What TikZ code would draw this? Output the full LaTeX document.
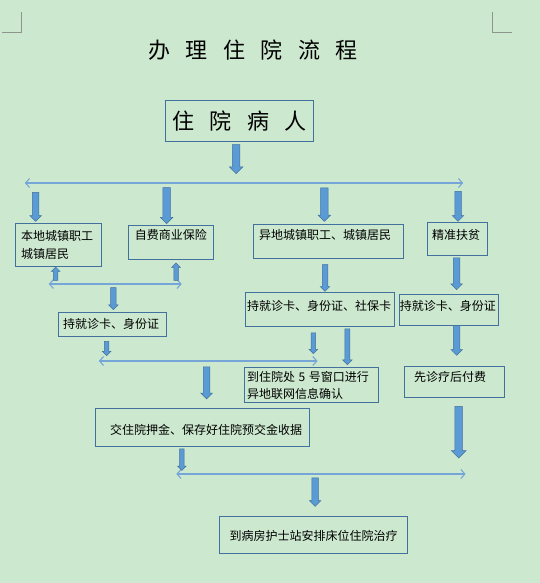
\documentclass[tikz,border=0pt]{standalone}
\usepackage{fontspec}
\setmainfont{Noto Sans CJK SC}
\usetikzlibrary{shapes.arrows,arrows.meta}
\definecolor{bgc}{RGB}{204,232,207}
\definecolor{boxblue}{RGB}{65,113,156}
\definecolor{arrowfill}{RGB}{91,155,213}
\definecolor{arrowedge}{RGB}{65,113,156}
\definecolor{linecol}{RGB}{118,166,216}
\definecolor{markcol}{RGB}{140,150,140}
\begin{document}
\begin{tikzpicture}[x=1pt,y=-1pt,
  box/.style={draw=boxblue, line width=0.8pt, anchor=north west, inner ysep=0pt,
    align=left, font=\fontsize{12}{14}\selectfont},
  barrow/.style 2 args={single arrow, draw=arrowedge, fill=arrowfill, line width=0.5pt,
    inner sep=#1/2*1pt, single arrow head extend={(#2-#1)/2*1pt},
    shape border rotate=270, anchor=tip},
  uarrow/.style 2 args={barrow={#1}{#2}, shape border rotate=90},
  thinarrow/.style={draw=linecol, line width=1.1pt, <->, >={Straight Barb[length=4pt,width=9pt]}},
  cornermark/.style={draw=markcol, line width=0.7pt}
]
\useasboundingbox (0,0) rectangle (540,583);
\fill[bgc] (0,0) rectangle (540,583);

% page corner marks
\draw[cornermark] (2.4,32.3) -- (21.7,32.3) -- (21.7,12.3);
\draw[cornermark] (492.4,12.3) -- (492.4,32.3) -- (512.1,32.3);

% title
\node[font=\fontsize{22}{26}\selectfont, inner sep=0pt] (title) at (253,50)
  {办\hspace{15.6pt}理\hspace{15.6pt}住\hspace{15.6pt}院\hspace{15.6pt}流\hspace{15.6pt}程};

% boxes
\node[draw=boxblue, line width=0.8pt, minimum width=148.4pt, minimum height=41.7pt, inner sep=0pt,
  font=\fontsize{22}{26}\selectfont] (patient) at (239.5,120.85)
  {住\hspace{15.4pt}院\hspace{15.4pt}病\hspace{15.4pt}人};

\node[box, inner xsep=5.5pt, text width=75pt, minimum height=42.4pt,
  font=\fontsize{12}{17.7}\selectfont] (local) at (15.3,223.3) {本地城镇职工\\城镇居民};
\node[box, inner xsep=6.2pt, text width=72pt, text height=14.2pt, text depth=19.8pt]
  (self) at (128.3,225.3) {自费商业保险};
\node[box, inner xsep=5.5pt, text width=139pt, text height=15.2pt, text depth=18.8pt]
  (remote) at (253.3,224.3) {异地城镇职工、城镇居民};
\node[box, inner xsep=4.5pt, text width=50.4pt, text height=17.2pt, text depth=15.8pt]
  (poor) at (427.3,222.3) {精准扶贫};
\node[box, inner xsep=4.5pt, text width=98.4pt, text height=16.2pt, text depth=7.5pt]
  (card1) at (58.3,312.3) {持就诊卡、身份证};
\node[box, inner xsep=1.5pt, text width=146pt, text height=18.2pt, text depth=15.8pt]
  (card2) at (245.3,292.3) {持就诊卡、身份证、社保卡};
\node[box, inner xsep=0.2pt, text width=98pt, text height=16.2pt, text depth=14.8pt]
  (card3) at (399.3,294.3) {持就诊卡、身份证};
\node[box, inner xsep=2.8pt, text width=127.9pt, minimum height=35pt,
  font=\fontsize{12}{16.6}\selectfont] (window) at (244,367.3)
  {到住院处\hspace{3.5pt}5\hspace{3.5pt}号窗口进行\\异地联网信息确认};
\node[box, inner xsep=9.5pt, text width=81pt, text height=15.5pt, text depth=15.5pt]
  (later) at (404.3,365.7) {先诊疗后付费};
\node[box, inner xsep=14.3pt, text width=185.2pt, text height=26.2pt, text depth=11.2pt]
  (deposit) at (95.4,408.3) {交住院押金、保存好住院预交金收据};
\node[box, inner xsep=9.8pt, text width=167.7pt, text height=24.2pt, text depth=13.1pt]
  (ward) at (219.4,516) {到病房护士站安排床位住院治疗};

% thin double-headed lines
\coordinate (h1a) at (24.8,183);  \coordinate (h1b) at (463.2,183);
\coordinate (h2a) at (48.7,284);  \coordinate (h2b) at (181.7,284);
\coordinate (h3a) at (98.8,361);  \coordinate (h3b) at (317.5,361);
\coordinate (h4a) at (176.3,474); \coordinate (h4b) at (465.6,474);
\draw[thinarrow] (h1a) -- (h1b);
\draw[thinarrow] (h2a) -- (h2b);
\draw[thinarrow] (h3a) -- (h3b);
\draw[thinarrow] (h4a) -- (h4b);

% block arrows
\node[barrow={7}{13}, minimum height=29pt]   (a0)  at (236.2,174) {};
\node[barrow={6}{11}, minimum height=29pt]   (a1)  at (35.7,221.7) {};
\node[barrow={7}{12}, minimum height=36pt]   (a2)  at (166.7,224) {};
\node[barrow={7}{12}, minimum height=33.4pt] (a3)  at (324.3,221.7) {};
\node[barrow={6}{11}, minimum height=30pt]   (a4)  at (458,221.7) {};
\node[uarrow={4}{8},  minimum height=13.3pt] (u1)  at (55.7,266.7) {};
\node[uarrow={4}{8},  minimum height=17.3pt] (u2)  at (176,262.7) {};
\node[barrow={5}{9},  minimum height=22pt]   (a5)  at (113.3,310) {};
\node[barrow={4}{8},  minimum height=14.3pt] (a6)  at (106.7,356) {};
\node[barrow={5}{9},  minimum height=26.7pt] (a7)  at (325,291.7) {};
\node[barrow={6}{11}, minimum height=31.7pt] (a8)  at (456.7,290) {};
\node[barrow={4}{8},  minimum height=20.7pt] (a9)  at (313.3,354) {};
\node[barrow={4.5}{9},minimum height=35.7pt] (a10) at (347.3,365) {};
\node[barrow={6}{11}, minimum height=29.7pt] (a11) at (456.7,355.7) {};
\node[barrow={6}{11}, minimum height=32pt]   (a12) at (206.6,399.3) {};
\node[barrow={7}{14}, minimum height=51.6pt] (a13) at (458.7,458.3) {};
\node[barrow={4}{8},  minimum height=21.4pt] (a14) at (181.8,470.7) {};
\node[barrow={6}{11}, minimum height=28.4pt] (a15) at (315.1,506.7) {};
\end{tikzpicture}
\end{document}
